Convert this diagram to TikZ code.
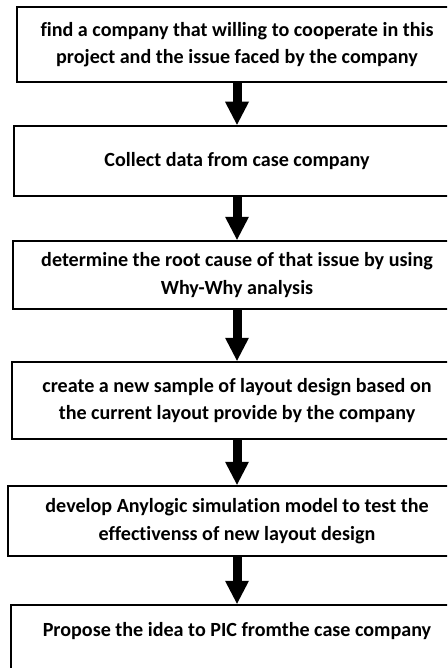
\documentclass[tikz,border=0pt]{standalone}
\usepackage{fontspec}
\setmainfont[Ligatures=NoCommon]{Carlito}
\usetikzlibrary{arrows.meta}
\tikzset{
  stepbox/.style={draw=black, line width=1.3pt, rectangle, inner sep=0pt},
  steptext/.style={font=\bfseries\fontsize{20.1}{27.5}\selectfont, align=center, inner sep=0pt},
  flowarrow/.style={line width=9pt, -{Triangle[width=24pt,length=23pt,line width=0pt]}, shorten <=0.6pt, shorten >=0.6pt}
}
\begin{document}
\begin{tikzpicture}[x=1pt,y=-1pt]
\useasboundingbox (0,0) rectangle (447,668);
\clip (0,0) rectangle (447,668);
\node[stepbox, minimum width=440pt, minimum height=75pt] (b1) at (237,44.5) {};
\node[stepbox, minimum width=446pt, minimum height=70pt] (b2) at (237,161) {};
\node[stepbox, minimum width=448pt, minimum height=68pt] (b3) at (237,275) {};
\node[stepbox, minimum width=450pt, minimum height=77pt] (b4) at (237,400.5) {};
\node[stepbox, minimum width=458pt, minimum height=70pt] (b5) at (237,521) {};
\node[stepbox, minimum width=452pt, minimum height=110pt] (b6) at (237,660) {};
\node[steptext] (t1) at (b1.center) {find a company that willing to cooperate in this\\project and the issue faced by the company};
\node[steptext] (t2) at (b2.center) {Collect data from case company};
\node[steptext] (t3) at (b3.center) {determine the root cause of that issue by using\\Why-Why analysis};
\node[steptext] (t4) at (b4.center) {create a new sample of layout design based on\\the current layout provide by the company};
\node[steptext] (t5) at (b5.center) {develop Anylogic simulation model to test the\\effectivenss of new layout design};
\node[steptext] (t6) at (237,631) {Propose the idea to PIC fromthe case company};
\draw[flowarrow] (b1.south) -- (b2.north);
\draw[flowarrow] (b2.south) -- (b3.north);
\draw[flowarrow] (b3.south) -- (b4.north);
\draw[flowarrow] (b4.south) -- (b5.north);
\draw[flowarrow] (b5.south) -- (b6.north);
\end{tikzpicture}
\end{document}
